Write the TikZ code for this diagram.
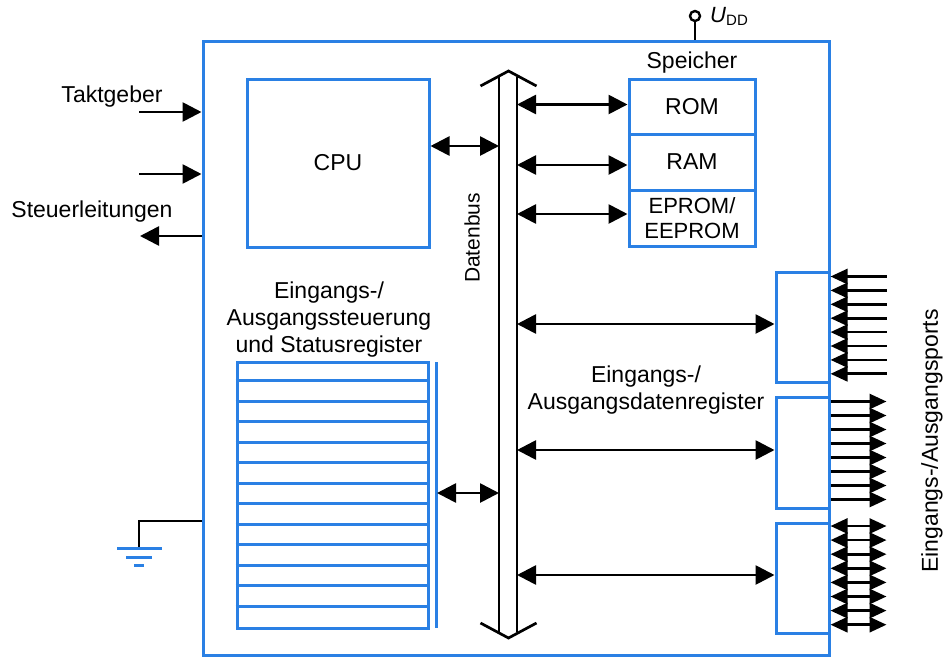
\documentclass[tikz,border=0pt]{standalone}
\usepackage{fontspec}
\setmainfont{Liberation Sans}
\usetikzlibrary{arrows.meta,calc}
\definecolor{cblue}{RGB}{42,128,228}
\tikzset{
  lbl/.style={font=\fontsize{23}{27}\selectfont, inner sep=0pt, align=center},
  bbox/.style={draw=cblue, line width=3pt, inner sep=0pt, font=\fontsize{23}{25}\selectfont, align=center},
  bluel/.style={draw=cblue, line width=3pt},
  blk/.style={draw=black, line width=2.7pt},
  bigtip/.tip={Triangle[length=19pt,width=19pt]},
  smtip/.tip={Triangle[length=17pt,width=15pt]},
  uni/.style={blk, -bigtip},
  bi/.style={blk, bigtip-bigtip},
  pin/.style={blk, smtip-},
  pout/.style={blk, -smtip},
  pbi/.style={blk, smtip-smtip},
}
\begin{document}
\begin{tikzpicture}[x=1pt,y=-1pt]
\useasboundingbox (0,0) rectangle (947,657);
% outer chip
\node[bbox, minimum width=626, minimum height=614] (mc) at (516,348) {};
% CPU
\node[bbox, minimum width=182, minimum height=168] (cpu) at (338,163) {CPU};
% memory
\node[lbl] (spk) at (692,63) {Speicher};
\node[bbox, minimum width=126, minimum height=55] (rom) at (692,106.5) {ROM};
\node[bbox, minimum width=126, minimum height=56] (ram) at (692,162) {RAM};
\node[bbox, minimum width=126, minimum height=56, font=\fontsize{22}{25}\selectfont] (eprom) at (692,218) {EPROM/\\EEPROM};
% port registers
\node[bbox, minimum width=53, minimum height=110] (p1) at (802.5,327) {};
\node[bbox, minimum width=53, minimum height=111] (p2) at (802.5,452.5) {};
\node[bbox, minimum width=53, minimum height=110] (p3) at (802.5,578) {};
% status register
\node[bbox, minimum width=191, minimum height=266] (sr) at (332.5,495) {};
\foreach \i in {1,...,12} {
  \draw[bluel] ($(sr.north west)+(0,{\i*266/13})$) -- ($(sr.north east)+(0,{\i*266/13})$);
}
\coordinate (srbt) at (436,362);
\coordinate (srbb) at (436,628);
\draw[bluel] (srbt) -- (srbb);
% data bus
\coordinate (busLt) at (499,77);
\coordinate (busLb) at (499,632);
\coordinate (busRt) at (517,77);
\coordinate (busRb) at (517,632);
\draw[blk] (busLt) -- (busLb);
\draw[blk] (busRt) -- (busRb);
\coordinate (tipT) at (508.5,71);
\coordinate (tipB) at (508.5,638);
\draw[blk, line join=miter] ($(tipT)+(-28,15)$) -- (tipT) -- ($(tipT)+(28,15)$);
\draw[blk, line join=miter] ($(tipB)+(-28,-15)$) -- (tipB) -- ($(tipB)+(28,-15)$);
\node[lbl, rotate=90, font=\fontsize{21}{25}\selectfont] (db) at (472,238) {Datenbus};
% bus connections
\draw[bi] ($(cpu.east)+(0,-17)$) -- (busLt |- {$(cpu.east)+(0,-17)$});
\draw[bi] (busRt |- rom.west) ++(0,-2) -- ($(rom.west)+(0,-2)$);
\draw[bi] (busRt |- ram.west) ++(0,3) -- ($(ram.west)+(0,3)$);
\draw[bi] (busRt |- eprom.west) ++(0,-4) -- ($(eprom.west)+(0,-4)$);
\draw[bi] (busRt |- p1.west) ++(0,-3) -- ($(p1.west)+(0,-3)$);
\draw[bi] (busRt |- p2.west) ++(0,-2.5) -- ($(p2.west)+(0,-2.5)$);
\draw[bi] (busRt |- p3.west) ++(0,-3) -- ($(p3.west)+(0,-3)$);
\coordinate (srm) at (437,493);
\draw[bi] (srm) -- (busLt |- srm);
% port lines
\foreach \i in {0,...,7} {
  \draw[pin] ($(p1.north east)+(0,{6+\i*13.9})$) -- ++(56,0);
  \draw[pout] ($(p2.north east)+(0,{6+\i*14})$) -- ++(56,0);
  \draw[pbi] ($(p3.north east)+(0,{4.5+\i*14.1})$) -- ++(56,0);
}
\node[lbl, rotate=90] (ports) at (932,441) {Eingangs-/Ausgangsports};
% labels
\node[lbl] (srl) at (329,320) {Eingangs-/\\Ausgangssteuerung\\und Statusregister};
\node[lbl] (dl) at (646,390) {Eingangs-/\\Ausgangsdatenregister};
% left side
\node[lbl] (takt) at (112,97) {Taktgeber};
\node[lbl] (steu) at (92,212) {Steuerleitungen};
\coordinate (in1) at (139,112);
\coordinate (in2) at (139,174);
\coordinate (out1) at (140,236);
\draw[uni] (in1) -- (mc.west |- in1);
\draw[uni] (in2) -- (mc.west |- in2);
\draw[uni] (mc.west |- out1) -- (out1);
% ground
\coordinate (gnd) at (139,548);
\draw[blk, line width=2.4pt] (mc.west |- 0,521) -- (139,521) -- (gnd);
\draw[bluel] ($(gnd)+(-22,0)$) -- ($(gnd)+(23,0)$);
\draw[bluel] ($(gnd)+(-13,9)$) -- ($(gnd)+(13,9)$);
\draw[bluel] ($(gnd)+(-5,17)$) -- ($(gnd)+(5,17)$);
% supply
\coordinate (vdd) at (695,16);
\draw[blk, line width=2.4pt] (vdd) circle (5);
\draw[blk, line width=2.4pt] ($(vdd)+(0,5)$) -- (vdd |- mc.north);
\node[lbl, anchor=west, font=\fontsize{22}{26}\selectfont] (udd) at (710,16) {\textit{U}\raisebox{-3pt}{\fontsize{15}{17}\selectfont DD}};
\end{tikzpicture}
\end{document}
